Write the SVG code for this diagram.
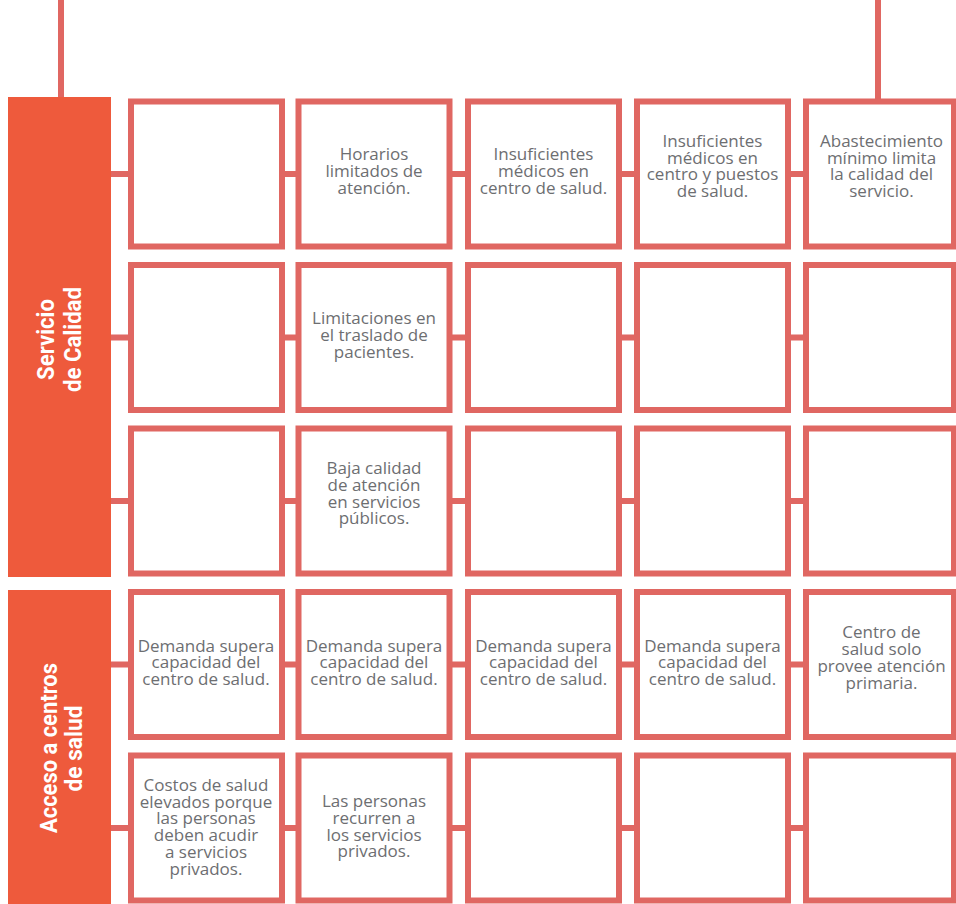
<svg xmlns="http://www.w3.org/2000/svg" width="956" height="904" viewBox="0 0 956 904">
<style>
.box{fill:#fff;stroke:#E06762;stroke-width:6}
.conn{stroke:#E06762;stroke-width:6;fill:none}
.band{fill:#EE5A3C}
.t{font-family:"Open Sans","Liberation Sans",sans-serif;font-size:17px;fill:#6D6E71;text-anchor:middle}
.lbl{font-family:Roboto,"Liberation Sans",sans-serif;font-weight:bold;font-size:24px;fill:#fff;text-anchor:middle}
</style>
<rect width="956" height="904" fill="#fff"/>
<g id="connectors">
<line class="conn" x1="61" y1="0" x2="61" y2="98"/>
<line class="conn" x1="878" y1="0" x2="878" y2="101"/>
<line class="conn" x1="110" y1="174" x2="808" y2="174"/>
<line class="conn" x1="110" y1="337.5" x2="808" y2="337.5"/>
<line class="conn" x1="110" y1="501" x2="808" y2="501"/>
<line class="conn" x1="110" y1="664.5" x2="808" y2="664.5"/>
<line class="conn" x1="110" y1="828" x2="808" y2="828"/>
</g>
<g id="band-servicio">
<rect class="band" x="8" y="97" width="103" height="480"/>
<text class="lbl" transform="translate(54,339.5) rotate(-90)" textLength="81" lengthAdjust="spacingAndGlyphs">Servicio</text>
<text class="lbl" transform="translate(81,339.5) rotate(-90)" textLength="105" lengthAdjust="spacingAndGlyphs">de Calidad</text>
</g>
<g id="band-acceso">
<rect class="band" x="8" y="590" width="103" height="314"/>
<text class="lbl" transform="translate(56.5,748) rotate(-90)" textLength="170" lengthAdjust="spacingAndGlyphs">Acceso a centros</text>
<text class="lbl" transform="translate(81.5,748.5) rotate(-90)" textLength="86" lengthAdjust="spacingAndGlyphs">de salud</text>
</g>
<!-- Row 1 -->
<g id="r1c1"><rect class="box" x="131" y="101.5" width="151" height="145"/></g>
<g id="r1c2"><rect class="box" x="298.5" y="101.5" width="151" height="145"/>
<text class="t" x="374" y="159.5">Horarios</text>
<text class="t" x="374" y="176.5">limitados de</text>
<text class="t" x="374" y="193.5">atención.</text></g>
<g id="r1c3"><rect class="box" x="468" y="101.5" width="151" height="145"/>
<text class="t" x="543.5" y="159.5">Insuficientes</text>
<text class="t" x="543.5" y="176.5">médicos en</text>
<text class="t" x="543.5" y="193.5">centro de salud.</text></g>
<g id="r1c4"><rect class="box" x="637" y="101.5" width="151" height="145"/>
<text class="t" x="712.5" y="146.7">Insuficientes</text>
<text class="t" x="712.5" y="163.5">médicos en</text>
<text class="t" x="712.5" y="180.3">centro y puestos</text>
<text class="t" x="712.5" y="197.1">de salud.</text></g>
<g id="r1c5"><rect class="box" x="806" y="101.5" width="148" height="145"/>
<text class="t" x="881.5" y="146.7">Abastecimiento</text>
<text class="t" x="881.5" y="163.5">mínimo limita</text>
<text class="t" x="881.5" y="180.3">la calidad del</text>
<text class="t" x="881.5" y="197.1">servicio.</text></g>
<!-- Row 2 -->
<g id="r2c1"><rect class="box" x="131" y="265" width="151" height="145"/></g>
<g id="r2c2"><rect class="box" x="298.5" y="265" width="151" height="145"/>
<text class="t" x="374" y="323.5">Limitaciones en</text>
<text class="t" x="374" y="340.5">el traslado de</text>
<text class="t" x="374" y="357.5">pacientes.</text></g>
<g id="r2c3"><rect class="box" x="468" y="265" width="151" height="145"/></g>
<g id="r2c4"><rect class="box" x="637" y="265" width="151" height="145"/></g>
<g id="r2c5"><rect class="box" x="806" y="265" width="148" height="145"/></g>
<!-- Row 3 -->
<g id="r3c1"><rect class="box" x="131" y="428.5" width="151" height="145"/></g>
<g id="r3c2"><rect class="box" x="298.5" y="428.5" width="151" height="145"/>
<text class="t" x="374" y="474.3">Baja calidad</text>
<text class="t" x="374" y="491">de atención</text>
<text class="t" x="374" y="507.7">en servicios</text>
<text class="t" x="374" y="524.4">públicos.</text></g>
<g id="r3c3"><rect class="box" x="468" y="428.5" width="151" height="145"/></g>
<g id="r3c4"><rect class="box" x="637" y="428.5" width="151" height="145"/></g>
<g id="r3c5"><rect class="box" x="806" y="428.5" width="148" height="145"/></g>
<!-- Row 4 -->
<g id="r4c1"><rect class="box" x="131" y="592" width="151" height="145"/>
<text class="t" x="206" y="651.5">Demanda supera</text>
<text class="t" x="206" y="668.3">capacidad del</text>
<text class="t" x="206" y="685.1">centro de salud.</text></g>
<g id="r4c2"><rect class="box" x="298.5" y="592" width="151" height="145"/>
<text class="t" x="374" y="651.5">Demanda supera</text>
<text class="t" x="374" y="668.3">capacidad del</text>
<text class="t" x="374" y="685.1">centro de salud.</text></g>
<g id="r4c3"><rect class="box" x="468" y="592" width="151" height="145"/>
<text class="t" x="543.5" y="651.5">Demanda supera</text>
<text class="t" x="543.5" y="668.3">capacidad del</text>
<text class="t" x="543.5" y="685.1">centro de salud.</text></g>
<g id="r4c4"><rect class="box" x="637" y="592" width="151" height="145"/>
<text class="t" x="712.5" y="651.5">Demanda supera</text>
<text class="t" x="712.5" y="668.3">capacidad del</text>
<text class="t" x="712.5" y="685.1">centro de salud.</text></g>
<g id="r4c5"><rect class="box" x="806" y="592" width="148" height="145"/>
<text class="t" x="881.5" y="638.3">Centro de</text>
<text class="t" x="881.5" y="655.1">salud solo</text>
<text class="t" x="881.5" y="671.9">provee atención</text>
<text class="t" x="881.5" y="688.7">primaria.</text></g>
<!-- Row 5 -->
<g id="r5c1"><rect class="box" x="131" y="755.5" width="151" height="145"/>
<text class="t" x="206" y="790.8">Costos de salud</text>
<text class="t" x="206" y="807.6">elevados porque</text>
<text class="t" x="206" y="824.4">las personas</text>
<text class="t" x="206" y="841.3">deben acudir</text>
<text class="t" x="206" y="858.2">a servicios</text>
<text class="t" x="206" y="875">privados.</text></g>
<g id="r5c2"><rect class="box" x="298.5" y="755.5" width="151" height="145"/>
<text class="t" x="374" y="806.7">Las personas</text>
<text class="t" x="374" y="823.5">recurren a</text>
<text class="t" x="374" y="840.5">los servicios</text>
<text class="t" x="374" y="857.3">privados.</text></g>
<g id="r5c3"><rect class="box" x="468" y="755.5" width="151" height="145"/></g>
<g id="r5c4"><rect class="box" x="637" y="755.5" width="151" height="145"/></g>
<g id="r5c5"><rect class="box" x="806" y="755.5" width="148" height="145"/></g>
</svg>
